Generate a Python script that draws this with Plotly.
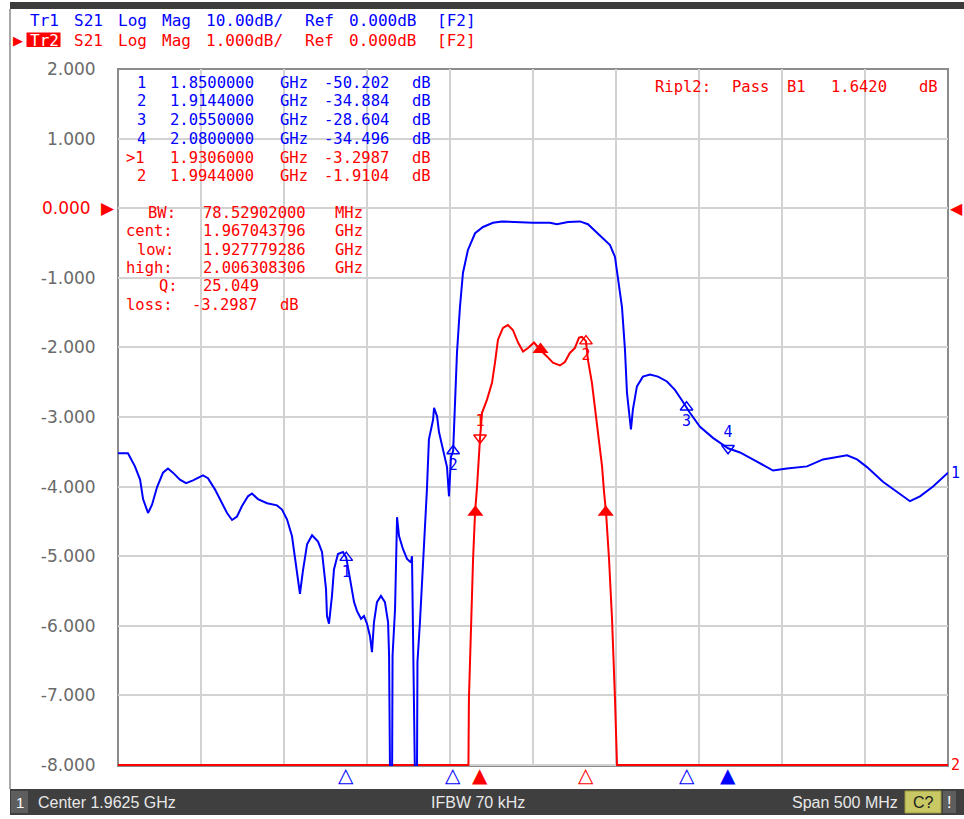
import re
import plotly.graph_objects as go

# ---------------- data ----------------
center_ghz = 1.9625
span_ghz = 0.5
tr1_scale_db = 10.0      # Tr1: 10 dB/div
tr2_scale_db = 1.0       # Tr2: 1 dB/div

# Tr1 (blue) S21 [dB]
tr1_freq_ghz = [
    1.7125, 1.7185, 1.7227, 1.7258, 1.7276, 1.7306, 1.7330, 1.7360, 1.7396, 1.7426,
    1.7456, 1.7498, 1.7535, 1.7577, 1.7637, 1.7667, 1.7709, 1.7752, 1.7782, 1.7812,
    1.7842, 1.7872, 1.7908, 1.7932, 1.7968, 1.8023, 1.8083, 1.8113, 1.8143, 1.8173,
    1.8191, 1.8209, 1.8221, 1.8239, 1.8264, 1.8294, 1.8330, 1.8354, 1.8360, 1.8378,
    1.8384, 1.8396, 1.8414, 1.8426, 1.8450, 1.8480, 1.8500, 1.8506, 1.8523, 1.8547,
    1.8565, 1.8589, 1.8607, 1.8625, 1.8643, 1.8655, 1.8667, 1.8685, 1.8709, 1.8733,
    1.8752, 1.8758, 1.8764, 1.8776, 1.8779, 1.8794, 1.8800, 1.8806, 1.8818, 1.8842,
    1.8866, 1.8890, 1.8896, 1.8902, 1.8908, 1.8914, 1.8926, 1.8929, 1.8944, 1.8962,
    1.8974, 1.8986, 1.8998, 1.9023, 1.9029, 1.9047, 1.9059, 1.9083, 1.9107, 1.9119,
    1.9131, 1.9144, 1.9155, 1.9167, 1.9185, 1.9203, 1.9233, 1.9276, 1.9324, 1.9384,
    1.9438, 1.9529, 1.9625, 1.9727, 1.9769, 1.9836, 1.9908, 1.9956, 2.0028, 2.0089,
    2.0119, 2.0137, 2.0161, 2.0179, 2.0191, 2.0215, 2.0227, 2.0251, 2.0287, 2.0330,
    2.0378, 2.0432, 2.0480, 2.0528, 2.0550, 2.0570, 2.0631, 2.0709, 2.0800, 2.0872,
    2.0974, 2.1071, 2.1155, 2.1276, 2.1372, 2.1517, 2.1577, 2.1637, 2.1733, 2.1836,
    2.1896, 2.1956, 2.2035, 2.2125,
]
tr1_db = [
    -35.2, -35.2, -37.1, -39.0, -41.8, -43.8, -42.6, -40.1, -38.0, -37.4,
    -38.0, -39.0, -39.5, -39.1, -38.4, -38.8, -40.4, -42.3, -43.8, -44.8,
    -44.3, -42.8, -41.4, -41.0, -41.8, -42.4, -42.7, -43.3, -44.7, -47.1,
    -50.0, -53.3, -55.4, -52.1, -48.3, -47.0, -47.9, -49.4, -50.9, -54.7,
    -58.6, -59.7, -55.7, -51.9, -49.7, -49.4, -50.2, -50.9, -53.3, -56.6,
    -57.9, -59.0, -58.6, -59.7, -61.5, -63.8, -59.5, -56.6, -55.7, -56.6,
    -59.5, -64.3, -82.0, -82.0, -64.3, -57.6, -47.1, -44.4, -47.1, -49.0,
    -50.4, -50.9, -50.0, -60.0, -67.6, -82.0, -82.0, -65.2, -59.5, -51.9,
    -45.1, -40.4, -33.2, -30.4, -28.7, -29.9, -32.2, -34.7, -37.2, -41.4,
    -35.7, -34.9, -27.5, -20.8, -14.2, -9.3, -6.0, -3.6, -2.7, -2.1,
    -1.9, -2.0, -2.1, -2.1, -2.3, -2.0, -1.9, -2.3, -3.9, -5.3,
    -7.0, -9.9, -14.2, -20.3, -26.5, -31.8, -28.9, -25.6, -24.2, -23.9,
    -24.2, -24.9, -26.1, -27.8, -28.6, -29.4, -31.4, -33.0, -34.5, -35.1,
    -36.4, -37.7, -37.4, -37.1, -36.1, -35.5, -36.1, -37.2, -39.3, -41.1,
    -42.1, -41.4, -40.0, -38.0,
]

# Tr2 (red) S21 [dB] (values below the -8 dB floor are shown on the floor)
tr2_freq_ghz = [
    1.7125, 1.9236, 1.9239, 1.9251, 1.9264, 1.9276, 1.9288, 1.9306, 1.9318, 1.9348,
    1.9378, 1.9396, 1.9414, 1.9444, 1.9474, 1.9504, 1.9535, 1.9565, 1.9595, 1.9631,
    1.9667, 1.9709, 1.9745, 1.9787, 1.9817, 1.9847, 1.9877, 1.9902, 1.9920, 1.9944,
    1.9956, 1.9980, 1.9998, 2.0016, 2.0041, 2.0053, 2.0065, 2.0083, 2.0101, 2.0119,
    2.0131, 2.2125,
]
tr2_db = [
    -8.0, -8.0, -7.05, -5.90, -5.04, -4.37, -4.00, -3.30, -2.94, -2.75,
    -2.51, -2.22, -1.89, -1.72, -1.68, -1.75, -1.93, -2.06, -2.01, -1.93,
    -2.03, -2.13, -2.22, -2.26, -2.21, -2.08, -2.01, -1.86, -1.85, -1.91,
    -2.18, -2.51, -2.85, -3.22, -3.71, -4.08, -4.37, -5.04, -5.90, -7.05,
    -8.0, -8.0,
]

# markers
tr1_marker_names = ["1", "2", "3", "4"]
tr1_marker_freq = [1.8500000, 1.9144000, 2.0550000, 2.0800000]
tr1_marker_db = [-50.202, -34.884, -28.604, -34.496]
tr1_marker_down = [False, False, False, True]
tr1_active = 3

tr2_marker_names = ["1", "2"]
tr2_marker_freq = [1.9306000, 1.9944000]
tr2_marker_db = [-3.2987, -1.9104]
tr2_marker_down = [True, False]
tr2_active = 0

bw_freq_ghz = [1.927779286, 1.967043796, 2.006308306]
bw_marker_db = [-4.37, -2.03, -4.37]
bw_lines = ["  BW:  78.52902000 MHz",
            "cent:  1.967043796 GHz",
            " low:  1.927779286 GHz",
            "high:  2.006308306 GHz",
            "   Q:  25.049",
            "loss: -3.2987 dB"]
ripple_line = "Ripl2: Pass B1  1.6420  dB"

y_tick_values = [2, 1, 0, -1, -2, -3, -4, -5, -6, -7, -8]
y_tick_labels = ["2.000", "1.000", "0.000", "-1.000", "-2.000", "-3.000",
                 "-4.000", "-5.000", "-6.000", "-7.000", "-8.000"]
ref_level_db = 0.0

header_tr1 = "Tr1 S21 Log Mag 10.00dB/ Ref 0.000dB [F2]"
header_tr2 = "Tr2 S21 Log Mag 1.000dB/ Ref 0.000dB [F2]"
status_center = "Center 1.9625 GHz"
status_ifbw = "IFBW 70 kHz"
status_span = "Span 500 MHz"

# ---------------- style ----------------
BLUE = "#0000ff"
RED = "#ff0000"
MONO = "DejaVu Sans Mono"
SANS = "DejaVu Sans"
W, H = 964, 819
PL, PR, PT, PB = 118, 948, 69, 766
CELL = 11.0
TXT = 15.5


def px(x):
    return (x - PL) / (PR - PL)


def py(y):
    return (PB - y) / (PB - PT)


x_range = [center_ghz - span_ghz / 2, center_ghz + span_ghz / 2]
y_range = [-8.015, 2.0]
y2_range = [v * tr1_scale_db / tr2_scale_db for v in y_range]

fig = go.Figure()

# Tr2 trace (primary axis, with the grid and the labels)
fig.add_trace(go.Scatter(x=tr2_freq_ghz, y=tr2_db, mode="lines",
                         line=dict(color=RED, width=2), hoverinfo="skip"))
fig.add_trace(go.Scatter(
    x=tr2_marker_freq, y=tr2_marker_db, mode="markers+text",
    marker=dict(symbol=["triangle-down-open" if d else "triangle-up-open" for d in tr2_marker_down],
                size=11, color=RED, line=dict(width=1.4, color=RED)),
    text=tr2_marker_names,
    textposition=["top center" if d else "bottom center" for d in tr2_marker_down],
    textfont=dict(family=MONO, size=15, color=RED), cliponaxis=False, hoverinfo="skip"))
fig.add_trace(go.Scatter(x=bw_freq_ghz, y=bw_marker_db, mode="markers",
                         marker=dict(symbol="triangle-up", size=14, color=RED),
                         cliponaxis=False, hoverinfo="skip"))

# Tr1 trace (overlaid axis, 10 dB/div)
fig.add_trace(go.Scatter(x=tr1_freq_ghz, y=tr1_db, yaxis="y2", mode="lines",
                         line=dict(color=BLUE, width=2), hoverinfo="skip"))
fig.add_trace(go.Scatter(
    x=tr1_marker_freq, y=tr1_marker_db, yaxis="y2", mode="markers+text",
    marker=dict(symbol=["triangle-down-open" if d else "triangle-up-open" for d in tr1_marker_down],
                size=11, color=BLUE, line=dict(width=1.4, color=BLUE)),
    text=tr1_marker_names,
    textposition=["top center" if d else "bottom center" for d in tr1_marker_down],
    textfont=dict(family=MONO, size=15, color=BLUE), cliponaxis=False, hoverinfo="skip"))

ann = []


def text_px(t, x, y, color, size=TXT, family=MONO, xanchor="left", **kw):
    ann.append(dict(text=t, x=px(x), y=py(y), xref="paper", yref="paper", showarrow=False,
                    xanchor=xanchor, yanchor="middle",
                    font=dict(family=family, size=size, color=color), **kw))


def mono_row(line, x0, yc, color, size=TXT, skip_first=False):
    for k, m in enumerate(re.finditer(r"\S+", line)):
        if skip_first and k == 0:
            continue
        tok = m.group().replace(">", "&gt;")
        text_px(tok, x0 + m.start() * CELL, yc, color, size=size)


# header
mono_row(header_tr1, 27.5, 20.5, BLUE, size=16)
mono_row(header_tr2, 27.5, 40, RED, size=16, skip_first=True)
text_px(header_tr2.split()[0], 27.5, 40, "#ffffff", size=16)
text_px("▶", 25, 40, RED, size=13, family=SANS, xanchor="right")

# marker table
rows = []
for n, f, d in zip(tr1_marker_names, tr1_marker_freq, tr1_marker_db):
    rows.append((f"{n:>2}  {f:.7f} GHz {d:.3f} dB", BLUE))
for i, (n, f, d) in enumerate(zip(tr2_marker_names, tr2_marker_freq, tr2_marker_db)):
    lab = (">" + n) if i == tr2_active else n
    rows.append((f"{lab:>2}  {f:.7f} GHz {d:.4f} dB", RED))
for i, (line, col) in enumerate(rows):
    mono_row(line, 123.5, 82.7 + 18.7 * i, col)

for i, line in enumerate(bw_lines):
    mono_row(line, 123.5, 213 + 18.3 * i, RED)

mono_row(ripple_line, 652.5, 87, RED)

# marker position indicators below the grid (placed on the frequency axis)
for i, f in enumerate(tr1_marker_freq):
    ann.append(dict(text="▲" if i == tr1_active else "△", x=f, xref="x", y=py(775), yref="paper",
                    xanchor="center", yanchor="middle", showarrow=False,
                    font=dict(family=SANS, size=20, color=BLUE)))
for i, f in enumerate(tr2_marker_freq):
    ann.append(dict(text="▲" if i == tr2_active else "△", x=f, xref="x", y=py(775), yref="paper",
                    xanchor="center", yanchor="middle", showarrow=False,
                    font=dict(family=SANS, size=20, color=RED)))

# red label of the reference level tick
ref_label = y_tick_labels[y_tick_values.index(ref_level_db)]
ann.append(dict(text=ref_label, x=0, xref="paper", xanchor="right", xshift=-25, y=ref_level_db, yref="y",
                yanchor="middle", showarrow=False, font=dict(family=SANS, size=17, color=RED)))

# reference level arrows
ann.append(dict(text="▶", x=0, xref="paper", xanchor="right", xshift=-1, y=ref_level_db, yref="y",
                yanchor="middle", showarrow=False, font=dict(family=SANS, size=17, color=RED)))
ann.append(dict(text="◀", x=1, xref="paper", xanchor="left", xshift=0, y=ref_level_db, yref="y",
                yanchor="middle", showarrow=False, font=dict(family=SANS, size=16, color=RED)))
# trace end labels
ann.append(dict(text="1", x=1, xref="paper", xanchor="left", xshift=1, y=tr1_db[-1], yref="y2",
                yanchor="middle", showarrow=False, font=dict(family=MONO, size=15, color=BLUE)))
ann.append(dict(text="2", x=1, xref="paper", xanchor="left", xshift=1, y=tr2_db[-1], yref="y",
                yanchor="middle", showarrow=False, font=dict(family=MONO, size=15, color=RED)))

# status bar texts
STAT = "#e8e8e8"
SFONT = "Liberation Sans Narrow, Liberation Sans, Arial, sans-serif"
text_px("1", 19.5, 802, "#ffffff", size=15, family=SFONT, xanchor="center")
text_px(status_center, 36, 802, STAT, size=16, family=SFONT)
text_px(status_ifbw, 478, 802, STAT, size=16, family=SFONT, xanchor="center")
text_px(status_span, 900, 802, STAT, size=16, family=SFONT, xanchor="right")
text_px("C?", 923.5, 802, "#202020", size=16, family=SFONT, xanchor="center")
text_px("!", 949.5, 802, "#ffffff", size=16, family=SFONT, xanchor="center")


def rect_px(x0, y0, x1, y1, fill, line_color=None, lw=0, layer="above"):
    return dict(type="rect", xref="paper", yref="paper", x0=px(x0), x1=px(x1), y0=py(y1), y1=py(y0),
                fillcolor=fill, line=dict(width=lw, color=line_color or fill), layer=layer)


shapes = [
    # plot frame
    dict(type="rect", xref="paper", yref="paper", x0=0, x1=1, y0=0, y1=1,
         line=dict(color="#8c8c8c", width=2), layer="between"),
    # window borders
    rect_px(10, 2, 964, 9, "#3c3c3c"),
    rect_px(9, 9, 11, 789, "#a8a8a8"),
    # Tr2 highlight box
    rect_px(26.5, 32.5, 60.5, 47, RED, layer="below"),
    # status bar
    rect_px(10, 789, 964, 815, "#3f3f3f", layer="below"),
    rect_px(11, 791, 28, 813, "#5e5e5e", layer="below"),
    rect_px(905, 791, 941, 813, "#c8c864", line_color="#9a9a40", lw=1, layer="below"),
    rect_px(943, 791, 956, 813, "#5e5e5e", layer="below"),
]

fig.update_layout(
    width=W, height=H, autosize=False,
    margin=dict(l=PL, r=W - PR, t=PT, b=H - PB, pad=0),
    paper_bgcolor="#ffffff", plot_bgcolor="#ffffff",
    showlegend=False,
    xaxis=dict(range=x_range, tick0=x_range[0], dtick=span_ghz / 10, showticklabels=False,
               ticks="", showgrid=True, gridcolor="#d2d2d2", gridwidth=2, zeroline=False,
               showline=False, fixedrange=True),
    yaxis=dict(range=y_range, tickmode="array", tickvals=y_tick_values,
               ticktext=[("" if v == ref_level_db else t) for v, t in zip(y_tick_values, y_tick_labels)],
               ticks="outside", ticklen=18, tickcolor="rgba(0,0,0,0)",
               tickfont=dict(family=SANS, size=17, color="#6a6a6a"),
               showgrid=True, gridcolor="#d2d2d2", gridwidth=2, zeroline=False,
               showline=False, fixedrange=True),
    yaxis2=dict(range=y2_range, overlaying="y", side="right", showgrid=False, showticklabels=False,
                ticks="", zeroline=False, showline=False, fixedrange=True),
    annotations=ann,
    shapes=shapes,
)

fig.write_html("out.html", config={"displayModeBar": False, "staticPlot": True},
               post_script="document.body.style.margin='0px';")
